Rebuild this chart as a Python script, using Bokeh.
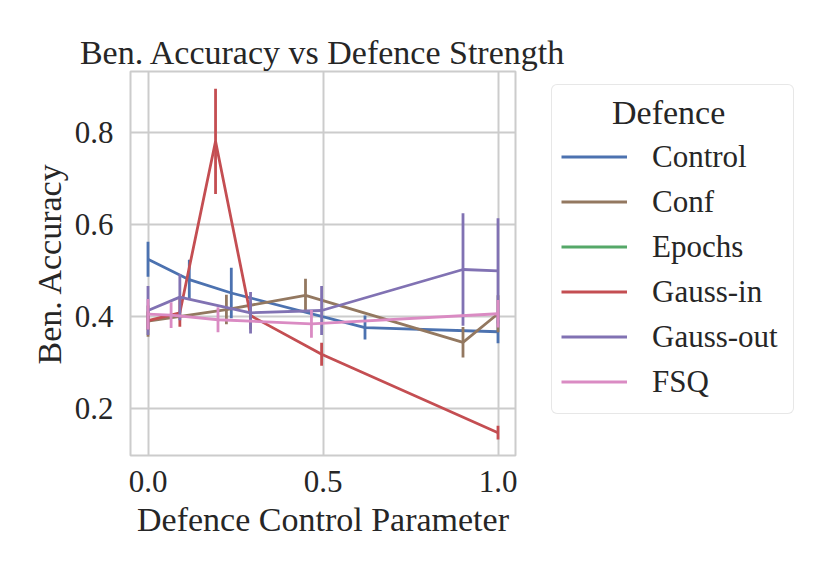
from bokeh.plotting import figure
from bokeh.models import FixedTicker, Legend, LegendItem, Range1d
from bokeh.embed import file_html
from bokeh.resources import INLINE

NaN = float("nan")

# ---------------- data ----------------
series_names = ["Control", "Conf", "Epochs", "Gauss-in", "Gauss-out", "FSQ"]
series_colors = ["#4c72b0", "#937860", "#55a868", "#c44e52", "#8172b3", "#da8bc3"]

control_x = [0.0, 0.118, 0.238, 0.62, 1.0]
control_y = [0.524, 0.480, 0.451, 0.376, 0.367]
control_err = [0.038, 0.043, 0.055, 0.026, 0.025]

conf_x = [0.0, 0.224, 0.45, 0.9, 1.0]
conf_y = [0.390, 0.415, 0.446, 0.344, 0.406]
conf_err = [0.034, 0.032, 0.036, 0.033, 0.040]

# Epochs: listed in the legend, but no visible values in the chart
epochs_x = [NaN]
epochs_y = [NaN]
epochs_err = [NaN]

gauss_in_x = [0.0, 0.091, 0.193, 0.293, 0.496, 1.0]
gauss_in_y = [0.391, 0.408, 0.780, 0.402, 0.318, 0.148]
gauss_in_err = [0.02, 0.03, 0.114, 0.03, 0.025, 0.015]

gauss_out_x = [0.0, 0.091, 0.293, 0.496, 0.9, 1.0]
gauss_out_y = [0.413, 0.442, 0.408, 0.413, 0.502, 0.499]
gauss_out_err = [0.053, 0.05, 0.045, 0.053, 0.122, 0.114]

fsq_x = [0.0, 0.066, 0.2, 0.467, 1.0]
fsq_y = [0.405, 0.403, 0.393, 0.384, 0.406]
fsq_err = [0.033, 0.028, 0.027, 0.030, 0.030]

x_ticks = [0.0, 0.5, 1.0]
x_tick_labels = ["0.0", "0.5", "1.0"]
y_ticks = [0.2, 0.4, 0.6, 0.8]
y_tick_labels = ["0.2", "0.4", "0.6", "0.8"]

title_text = "Ben. Accuracy vs Defence Strength"
x_label = "Defence Control Parameter"
y_label = "Ben. Accuracy"
legend_title = "Defence"

all_series = [
    (control_x, control_y, control_err),
    (conf_x, conf_y, conf_err),
    (epochs_x, epochs_y, epochs_err),
    (gauss_in_x, gauss_in_y, gauss_in_err),
    (gauss_out_x, gauss_out_y, gauss_out_err),
    (fsq_x, fsq_y, fsq_err),
]

# ---------------- layout ----------------
FONT = "Liberation Serif"
TXT = "#262626"
GRID = "#cccccc"

x0, x1 = -0.05, 1.05
y0, y1 = 0.0985, 0.9315

p = figure(frame_width=385, frame_height=384, output_backend="svg", toolbar_location=None,
           x_range=Range1d(x0, x1), y_range=Range1d(y0, y1),
           min_border_left=130, min_border_right=0,
           min_border_top=71, min_border_bottom=105,
           background_fill_color="white", border_fill_color="white")

p.title.text = title_text
p.title.align = "center"
p.title.text_font = FONT
p.title.text_font_size = "34px"
p.title.text_font_style = "normal"
p.title.text_color = TXT
p.title.standoff = 2

p.outline_line_color = GRID
p.outline_line_width = 2

for ax in (p.xaxis, p.yaxis):
    ax.axis_line_color = None
    ax.major_tick_line_color = None
    ax.minor_tick_line_color = None
    ax.major_tick_out = 0
    ax.major_tick_in = 0
    ax.major_label_text_font = FONT
    ax.major_label_text_font_size = "31px"
    ax.major_label_text_color = TXT
    ax.axis_label_text_font = FONT
    ax.axis_label_text_font_size = "34px"
    ax.axis_label_text_font_style = "normal"
    ax.axis_label_text_color = TXT

p.xaxis.ticker = FixedTicker(ticks=x_ticks)
p.xaxis.major_label_overrides = {t: l for t, l in zip(x_ticks, x_tick_labels)}
p.yaxis.ticker = FixedTicker(ticks=y_ticks)
p.yaxis.major_label_overrides = {t: l for t, l in zip(y_ticks, y_tick_labels)}
p.xaxis.axis_label = x_label
p.yaxis.axis_label = y_label
p.xaxis.major_label_standoff = 15
p.xaxis.axis_label_standoff = 6
p.yaxis.major_label_standoff = 17
p.yaxis.axis_label_standoff = 4

p.xgrid.ticker = FixedTicker(ticks=x_ticks)
p.ygrid.ticker = FixedTicker(ticks=y_ticks)
for g in (p.xgrid, p.ygrid):
    g.grid_line_color = GRID
    g.grid_line_width = 2

items = []
for name, color, (xs, ys, es) in zip(series_names, series_colors, all_series):
    r = p.line(xs, ys, line_color=color, line_width=2.8)
    p.segment(x0=xs, y0=[y - e for y, e in zip(ys, es)],
              x1=xs, y1=[y + e for y, e in zip(ys, es)],
              line_color=color, line_width=2.8)
    items.append(LegendItem(label=name, renderers=[r]))

# legend title is centred over the entries (non-breaking spaces as indent)
legend = Legend(items=items, location=(36, 41), title="\u00a0" * 6 + legend_title,
                padding=9, spacing=0, margin=0,
                glyph_width=66, glyph_height=45, label_height=45, label_standoff=25,
                label_width=132,
                label_text_font=FONT, label_text_font_size="31px", label_text_color=TXT,
                title_text_font=FONT, title_text_font_size="34px", title_text_color=TXT,
                title_text_font_style="normal", title_standoff=2,
                background_fill_color="white", background_fill_alpha=0.85,
                border_line_color="#d0d0d0", border_line_width=1.6)
if "border_radius" in Legend.properties():
    legend.border_radius = 6
p.add_layout(legend, "right")

open("out.html", "w").write(file_html(p, INLINE))
